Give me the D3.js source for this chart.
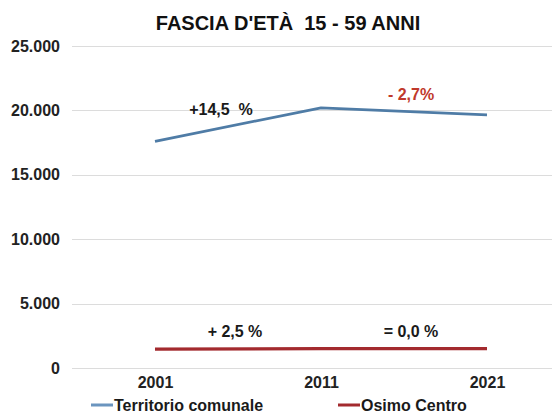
<!DOCTYPE html>
<html><head><meta charset="utf-8">
<script src="https://cdn.jsdelivr.net/npm/d3@7"></script>
<style>html,body{margin:0;padding:0;background:#fff;}svg{display:block;}text{white-space:pre;}</style>
</head><body>
<script>
const years = ["2001", "2011", "2021"];
const territorio = [17600, 20200, 19650];
const osimoCentro = [1460, 1500, 1500];
const yTicks = [0, 5000, 10000, 15000, 20000, 25000];
const seriesNames = ["Territorio comunale", "Osimo Centro"];
const annotTerritorio = ["+14,5  %", "- 2,7%"];
const annotCentro = ["+ 2,5 %", "= 0,0 %"];
const title = "FASCIA D'ETÀ  15 - 59 ANNI";

const W = 552, H = 418;
const font = "'Liberation Sans', Arial, sans-serif";
const svg = d3.select("body").append("svg").attr("width", W).attr("height", H);

const x = d3.scalePoint().domain(years).range([72, 570]).padding(0.5);
const y = d3.scaleLinear().domain([0, 25000]).range([368, 46]);

// title
svg.append("text").attr("x", 288).attr("y", 30).attr("text-anchor", "middle")
  .attr("font-family", font).attr("font-weight", "bold").attr("font-size", 20)
  .attr("fill", "#111").text(title);

// gridlines
svg.append("g").selectAll("line").data(yTicks).join("line")
  .attr("x1", 72).attr("x2", W).attr("y1", d => Math.round(y(d)) + 0.5).attr("y2", d => Math.round(y(d)) + 0.5)
  .attr("stroke", "#dcdcdc").attr("stroke-width", 1);

// y axis labels
const fmt = d => d === 0 ? "0" : d3.format(",")(d).replace(/,/g, ".");
const yAxis = d3.axisLeft(y).tickValues(yTicks).tickFormat(fmt).tickSize(0).tickPadding(0);
const gy = svg.append("g").attr("transform", "translate(60,0)").call(yAxis);
gy.select(".domain").remove();
gy.selectAll("text").attr("font-family", font).attr("font-weight", "bold").attr("font-size", 16).attr("fill", "#222");

// x axis labels
const xAxis = d3.axisBottom(x).tickSize(0).tickPadding(0);
const gx = svg.append("g").attr("transform", "translate(0,377)").call(xAxis);
gx.select(".domain").remove();
gx.selectAll("text").attr("font-family", font).attr("font-weight", "bold").attr("font-size", 16).attr("fill", "#222");

const line = d3.line().x((d, i) => x(years[i])).y(d => y(d));
svg.append("path").datum(territorio).attr("d", line).attr("fill", "none")
  .attr("stroke", "#4f7ca6").attr("stroke-width", 2.7).attr("stroke-linejoin", "round");
svg.append("path").datum(osimoCentro).attr("d", line).attr("fill", "none")
  .attr("stroke", "#a32a2e").attr("stroke-width", 3.2).attr("stroke-linejoin", "round");

// annotations
const ann = (tx, ty, t, c) => svg.append("text").attr("x", tx).attr("y", ty).attr("text-anchor", "middle")
  .attr("font-family", font).attr("font-weight", "bold").attr("font-size", 16).attr("fill", c).text(t);
ann(221, 115, annotTerritorio[0], "#1a1a1a");
ann(411, 100, annotTerritorio[1], "#c0392b");
ann(235, 337, annotCentro[0], "#1a1a1a");
ann(411, 337, annotCentro[1], "#1a1a1a");

// legend
const leg = [{n: seriesNames[0], c: "#6b95bf", x: 91}, {n: seriesNames[1], c: "#a32a2e", x: 338}];
leg.forEach(l => {
  svg.append("line").attr("x1", l.x).attr("x2", l.x + 22).attr("y1", 405).attr("y2", 405)
    .attr("stroke", l.c).attr("stroke-width", 3);
  svg.append("text").attr("x", l.x + 23).attr("y", 411).attr("font-family", font)
    .attr("font-weight", "bold").attr("font-size", 16).attr("fill", "#1a1a1a").text(l.n);
});
</script>
</body></html>
